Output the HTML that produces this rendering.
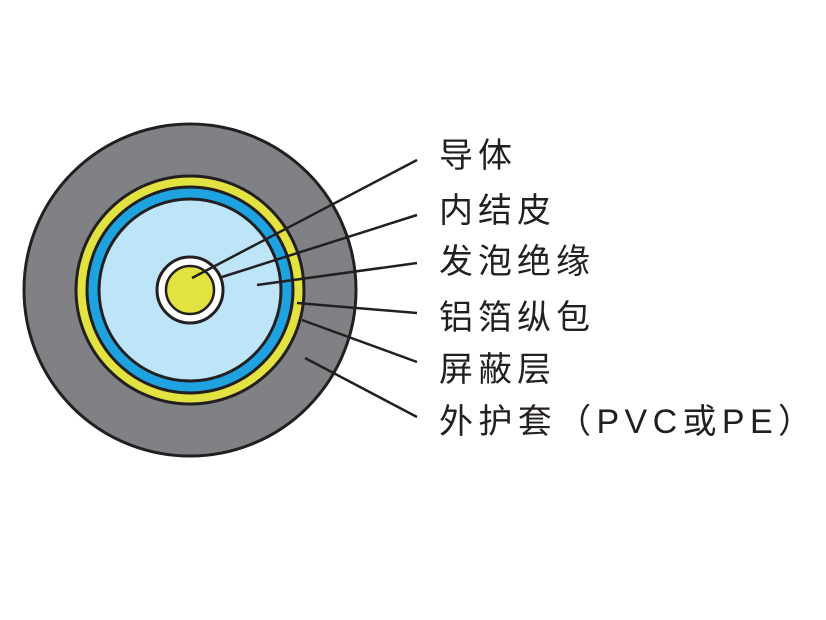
<!DOCTYPE html>
<html><head><meta charset="utf-8"><style>
html,body{margin:0;padding:0;background:#fff;}
svg{display:block;}
text{font-family:"Liberation Sans","Noto Sans CJK SC",sans-serif;font-size:34px;fill:#231f20;letter-spacing:5px;}
</style></head><body>
<svg width="826" height="620" viewBox="0 0 826 620" xmlns="http://www.w3.org/2000/svg">
<circle cx="190" cy="290" r="166" fill="#808184" stroke="#231f20" stroke-width="3"/>
<circle cx="190" cy="290" r="114" fill="#e2e340" stroke="#231f20" stroke-width="3"/>
<circle cx="190" cy="290" r="103" fill="#1fa3e0" stroke="#231f20" stroke-width="3"/>
<circle cx="190" cy="290" r="91" fill="#bde5f7" stroke="#231f20" stroke-width="3"/>
<circle cx="190" cy="290" r="33" fill="#ffffff" stroke="#231f20" stroke-width="3"/>
<circle cx="190" cy="290" r="24" fill="#e2e340" stroke="#231f20" stroke-width="2.5"/>
<g stroke="#231f20" stroke-width="2.5" fill="none">
<line x1="417" y1="160" x2="192" y2="278"/>
<line x1="417" y1="215" x2="222" y2="277"/>
<line x1="417" y1="263" x2="257" y2="285"/>
<line x1="417" y1="313" x2="297" y2="303"/>
<line x1="417" y1="362" x2="302" y2="320"/>
<line x1="417" y1="417" x2="305" y2="358"/>
</g>
<text x="439" y="167">导体</text>
<text x="439" y="222">内结皮</text>
<text x="439" y="273">发泡绝缘</text>
<text x="439" y="329">铝箔纵包</text>
<text x="439" y="381">屏蔽层</text>
<text x="439" y="433" textLength="378" lengthAdjust="spacing">外护套（PVC或PE）</text>
</svg>
</body></html>
